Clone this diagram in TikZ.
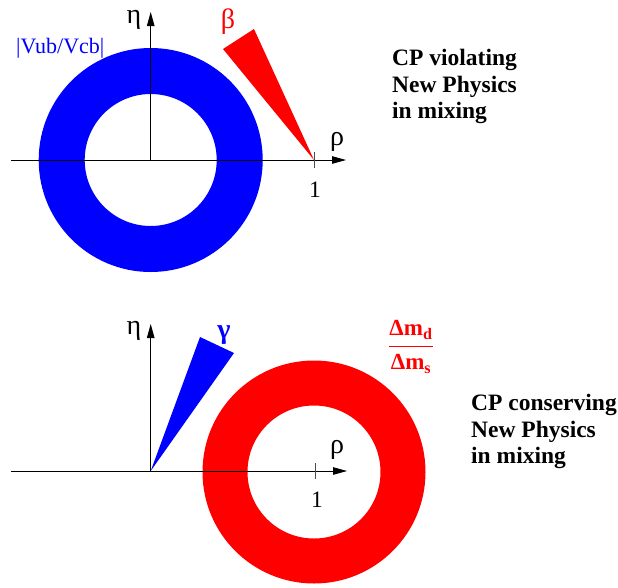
\documentclass[tikz,border=0pt]{standalone}
\usepackage{fontspec}
\usepackage{amsmath}
\setmainfont{Liberation Serif}
\usetikzlibrary{positioning, arrows.meta}
\definecolor{bandblue}{HTML}{0000FF}
\definecolor{bandred}{HTML}{FF0000}

\tikzset{
  axis/.style={line width=0.9pt, -{Triangle[length=14pt,width=7.5pt]}},
  unittick/.style={line width=0.9pt, gray!60!black},
  greek/.style={font=\fontsize{28}{30}\selectfont, inner sep=0pt},
  scenario/.style={font=\fontsize{23.5}{26.5}\selectfont\bfseries, align=left,
                   anchor=north west, inner sep=0pt}
}

\begin{document}
\begin{tikzpicture}[x=1pt, y=-1pt]
  \useasboundingbox (0,0) rectangle (618,587);

  % upper plane: CP violating NP
  \coordinate (orig1) at (150.7,160);
  \coordinate (unit1) at (314,160);
  \coordinate (xmin1) at (11,160);
  \coordinate (xmax1) at (346,160);
  \coordinate (ymax1) at (150.7,12);
  \fill[bandblue, even odd rule] (orig1) circle (112pt) circle (66pt);
  \fill[bandred] (unit1) -- (223,49) -- (254,29) -- cycle;
  \draw[axis] (xmin1) -- (xmax1);
  \draw[axis] (orig1) -- (ymax1);
  \draw[unittick] ([yshift=-8pt]unit1) -- ([yshift=8pt]unit1);
  \node[greek] (eta1) at (134,20) {η};
  \node[greek] (rho1) at (337,142) {ρ};
  \node[greek, text=bandred] (beta) at (228,22) {β};
  \node[font=\fontsize{23.5}{26}\selectfont, inner sep=0pt] (one1) at (315,190) {1};
  \node[font=\fontsize{22}{24}\selectfont, text=bandblue, anchor=base west, inner sep=0pt]
    (vubvcb) at (16,53) {|Vub/Vcb|};
  \node[scenario] (cpv) at (392,49) {CP violating\\New Physics\\in mixing};

  % lower plane: CP conserving NP
  \coordinate (orig2) at (150.7,471);
  \coordinate (unit2) at (315,471);
  \coordinate (ring2) at (314,472);
  \coordinate (xmin2) at (11,471);
  \coordinate (xmax2) at (347,471);
  \coordinate (ymax2) at (150.7,324);
  \fill[bandred, even odd rule] (ring2) circle (111.5pt) circle (66.5pt);
  \fill[bandblue] (orig2) -- (200,337) -- (234,353) -- cycle;
  \draw[axis] (xmin2) -- (xmax2);
  \draw[axis] (orig2) -- (ymax2);
  \draw[unittick] ([yshift=-8pt]unit2) -- ([yshift=8pt]unit2);
  \node[greek] (eta2) at (134,331) {η};
  \node[greek] (rho2) at (337,450) {ρ};
  \node[greek, text=bandblue, font=\fontsize{28}{30}\selectfont\bfseries] (gamma) at (224,335) {γ};
  \node[font=\fontsize{23.5}{26}\selectfont, inner sep=0pt] (one2) at (317,500) {1};
  \node[font=\fontsize{23}{25}\selectfont\bfseries, text=bandred, inner sep=0pt]
    (ratio) at (411,347) {$\dfrac{\text{Δm}_{\text{d}}}{\text{Δm}_{\text{s}}}$};
  \node[scenario] (cpc) at (471,394) {CP conserving\\New Physics\\in mixing};
\end{tikzpicture}
\end{document}
